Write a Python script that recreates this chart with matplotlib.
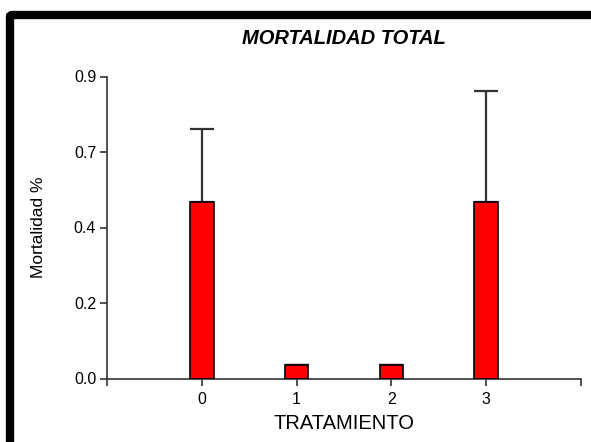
import matplotlib
matplotlib.use("Agg")
import matplotlib.pyplot as plt
from matplotlib.patches import FancyBboxPatch
import numpy as np

plt.rcParams['font.family'] = ['Liberation Sans', 'DejaVu Sans']

categories = ['0', '1', '2', '3']
mortality = [0.513, 0.038, 0.038, 0.513]
err_upper = [0.215, 0.0, 0.0, 0.325]
y_ticks = [0.0, 0.22, 0.44, 0.66, 0.88]
y_ticklabels = ['0.0', '0.2', '0.4', '0.7', '0.9']

fig = plt.figure(figsize=(5.91, 4.42), dpi=100)
ax = fig.add_axes([107.3 / 591, 1 - 378.5 / 442, (580.7 - 107.3) / 591, (378.5 - 76.5) / 442])

x = np.arange(len(categories))
ax.bar(x, mortality, width=0.25, color='#ff0000', edgecolor='black', linewidth=1.2, zorder=3)
ax.errorbar(x, mortality, yerr=[np.zeros(len(x)), err_upper], fmt='none',
            ecolor='#333333', elinewidth=1.6, capsize=8.6, capthick=1.6, zorder=2)

ax.set_xlim(-1, 4)
ax.set_ylim(0, 0.88)
ax.set_xticks([-1, 0, 1, 2, 3, 4])
ax.set_xticklabels([''] + categories + [''], fontsize=11.5)
ax.set_yticks(y_ticks)
ax.set_yticklabels(y_ticklabels, fontsize=11.5)
for s in ['top', 'right']:
    ax.spines[s].set_visible(False)
for s in ['left', 'bottom']:
    ax.spines[s].set_linewidth(1.2)
    ax.spines[s].set_color('#333333')
ax.tick_params(axis='both', direction='out', length=5, width=1.2, color='#333333', pad=3)
ax.tick_params(axis='x', pad=5)

ax.set_xlabel('TRATAMIENTO', fontsize=14.5, labelpad=5)
ax.set_ylabel('Mortalidad %', fontsize=12.5, labelpad=20)
fig.text(0.582, 1 - 38 / 442, 'MORTALIDAD TOTAL', fontsize=14.5, fontweight='bold',
         fontstyle='italic', ha='center', va='center')

top = 1 - 15 / 442
frame = FancyBboxPatch((10 / 591, -0.2), 1.3, top + 0.2,
                       boxstyle='round,pad=0,rounding_size=0.004',
                       transform=fig.transFigure, facecolor='none', edgecolor='black',
                       linewidth=6, clip_on=False)
fig.patches.append(frame)

fig.savefig('out.png', dpi=100)
